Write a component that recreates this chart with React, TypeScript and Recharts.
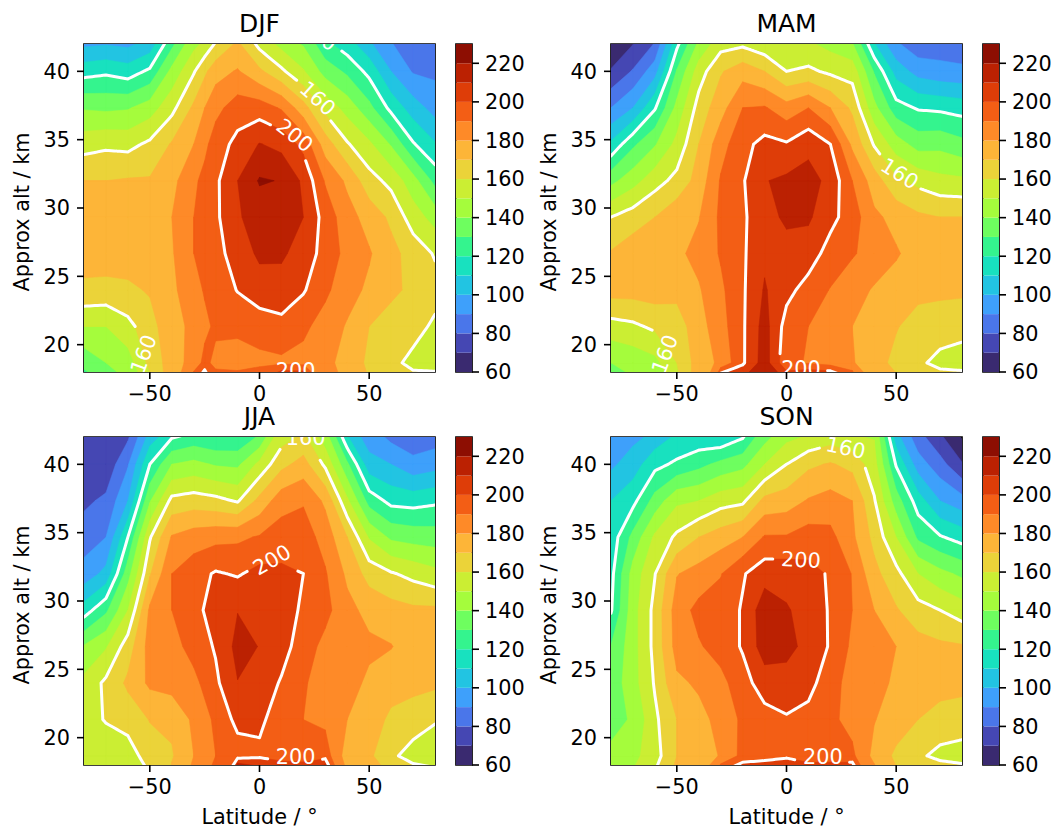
import React from 'react';
import { Bar, BarChart, ReferenceArea, Scatter, ScatterChart, XAxis, YAxis } from 'recharts';

const LATS = [-80, -70, -60, -50, -40, -30, -20, -10, 0, 10, 20, 30, 40, 50, 60, 70, 80];
const DJF_LATS = [-80, -70, -60, -50, -40, -30, -25, -20, -10, 0, 10, 20, 30, 40, 50, 60, 70, 80];
const ALTS = [16, 18.67, 21.33, 24, 26.67, 29.33, 32, 34.67, 37.33, 40, 42.67];

// one row per latitude, one value per altitude
const DJF = [
  [115, 133, 150, 168, 174, 175, 170, 156, 139, 116, 92],
  [125, 140, 150, 167, 175, 176, 170, 158, 138, 118, 93],
  [135, 145, 157, 168, 175, 176, 171, 157, 139, 115, 92],
  [150, 163, 166, 171, 176, 176, 171, 162, 145, 122, 98],
  [178, 175, 177, 178, 179, 180, 177, 171, 157, 143, 122],
  [210, 184, 182, 186, 190, 190, 188, 180, 172, 159, 143],
  [230, 193, 187.5, 191, 194, 194, 193, 187.5, 180, 168, 148],
  [205, 187, 192, 193, 197, 198, 198, 195, 187, 176, 156],
  [205, 186, 192, 200.5, 204, 209, 210, 203, 195, 181, 168],
  [215, 187, 195, 205, 212, 214, 221, 210.5, 195, 172, 152],
  [245, 188, 197, 206, 211.5, 214, 219.5, 207, 189, 162, 142],
  [245, 187, 192, 201, 206, 210, 208, 197, 174, 151, 135],
  [195, 183, 186, 192, 196, 196, 189, 175, 157, 136, 118],
  [180, 176, 179, 184, 187, 184, 178, 161, 146, 128, 110],
  [172, 168, 170, 178, 181, 176, 164, 152, 133, 117, 98],
  [170, 163, 166, 172, 173, 168, 157, 139, 117, 100, 88],
  [172, 157, 164, 168, 166, 155, 144, 121, 105, 89, 77],
  [170, 157, 158, 164, 159, 146, 127, 111, 96, 88, 80],
];
const MAM = [
  [125, 140, 156, 174, 171, 160, 137, 112, 90, 71, 58],
  [135, 143, 158, 174, 176, 165, 146, 128, 100, 81, 66],
  [140, 147, 162, 175, 177, 170, 156, 139, 119, 96, 76],
  [150, 160, 165, 173, 178, 177, 163, 153, 143, 131, 113],
  [180, 175, 176, 179, 183, 179.5, 174, 170, 164, 155, 138],
  [245, 182, 186, 188, 191, 192, 191, 186, 176, 169, 152],
  [225, 198.5, 198.5, 198.5, 198.5, 198.5, 199, 197, 190, 176, 152],
  [225, 215, 214, 211, 208, 206, 209.5, 203, 191, 170, 148],
  [225, 193, 196, 203, 206, 212, 212, 201, 184, 160, 147],
  [250, 189, 190, 196, 205, 211.5, 214, 207, 190, 162, 148],
  [250, 186, 186, 189.5, 196, 203, 207, 200, 180, 158, 143],
  [224, 181, 180, 184, 191, 195, 190, 178, 168, 156, 136],
  [185, 173, 175, 179, 186, 182, 175, 159, 143, 129, 105],
  [175, 168, 170.5, 176, 181, 177, 162, 145, 124, 106, 87],
  [172, 162, 167, 172, 176, 172, 157, 136, 119, 96, 80],
  [175, 157, 165, 172, 173, 170, 153, 137, 118, 93, 83],
  [175, 156, 163, 172, 174, 170, 152, 133, 116, 92, 82],
];
const JJA = [
  [150, 152, 154, 153, 141, 115, 94, 85, 78, 73, 70],
  [150, 151, 161, 162, 149, 128, 103, 90, 82, 73, 70],
  [150, 155, 164, 172, 165, 150, 136, 120, 100, 89, 75],
  [155, 165, 170.5, 182, 184, 182, 169, 159, 139, 120, 100],
  [175, 169, 172, 184, 186, 190, 190, 181, 163, 140, 112],
  [185, 180, 182, 187, 194, 197, 196, 185, 165, 143, 117],
  [200, 190, 192, 198, 201, 204, 201, 187, 163, 139, 115],
  [270, 195, 203, 209.7, 213, 209.7, 199, 188, 159, 138, 116],
  [240, 198, 202, 206, 209.7, 206, 203, 191, 173, 153, 125],
  [250, 192, 195, 199, 204, 206, 202, 195, 186, 167, 152],
  [250, 190, 190, 191, 195, 198, 200, 195, 189, 174, 158],
  [256, 195, 188, 186, 187, 193, 191, 186, 178, 158, 140],
  [185, 175, 180, 184, 186, 183, 178, 170, 152, 132, 105],
  [172, 172, 175, 178, 182, 177, 166, 149, 126, 104, 92],
  [175, 162, 168, 174, 180.5, 174, 161, 138, 117, 100, 83],
  [175, 156, 165, 173, 175, 172, 157, 136, 116, 93, 81],
  [175, 153, 161, 172, 175, 172, 153, 135, 118, 96, 82],
];
const SON = [
  [150, 142, 137, 134, 130.5, 119, 117, 114, 110, 98, 90],
  [155, 147, 141, 146, 146, 146, 144, 133, 117, 105, 95],
  [165, 156, 158, 161, 163, 163, 159.6, 152, 134, 117, 100],
  [175, 170, 170, 178, 184, 185, 179.5, 162, 148, 122, 108],
  [185, 173, 177, 181.5, 189, 193, 184, 170, 150, 127, 109],
  [222, 181, 183, 187, 194, 194, 189.5, 175, 156, 133, 105],
  [233, 193, 192, 196, 201, 201, 199, 180, 158, 137, 113],
  [227, 196, 196, 205, 215, 216, 206, 191, 173, 150, 132],
  [230, 198, 199, 206, 213, 211, 206, 191, 175, 160, 143],
  [233, 193, 196, 204, 207, 206, 203, 195, 181, 168, 146],
  [233, 193, 192, 193, 199, 199, 199, 193, 184, 171, 150],
  [238, 192, 187, 187, 188, 190, 189.5, 182, 180, 167, 147],
  [191, 177, 180.5, 184, 184, 180, 173, 167, 161, 154, 148],
  [175, 168, 175, 178, 180, 171, 163, 150, 135, 119, 100],
  [170, 162, 170, 174, 174, 164, 150, 128, 115, 95, 80],
  [180, 157, 167, 173, 172, 160, 143, 121, 100, 84, 68],
  [175, 156, 165, 173, 171, 155, 138, 116, 94, 71, 55],
];

const LEVELS = [60, 70, 80, 90, 100, 110, 120, 130, 140, 150, 160, 170, 180, 190, 200, 210, 220];
const BAND_COLORS = [
  '#3a2a70', '#4547b3', '#4a76ea', '#3ea0fb', '#22c4e2', '#18e1bf', '#34f48e', '#6efe5f', '#a5fc3c',
  '#cbee33', '#ebd339', '#fdb538', '#fe8a28', '#f35e15', '#de3d08', '#bb2102', '#8d0e02',
];
const LINE_LEVELS = [120, 160, 200];
const LAT_TICKS = [-50, 0, 50];
const ALT_TICKS = [20, 25, 30, 35, 40];
const BAR_TICKS = [60, 80, 100, 120, 140, 160, 180, 200, 220];

const DJF_LABELS = [
  { lat: 26.5, alt: 42.6, text: '120', angle: 30 },
  { lat: 26.5, alt: 38, text: '160', angle: 42 },
  { lat: 16, alt: 35.3, text: '200', angle: 38 },
  { lat: -52.8, alt: 19.3, text: '160', angle: -70 },
  { lat: 16.5, alt: 18.1, text: '200', angle: 0 },
];
const MAM_LABELS = [
  { lat: 51.5, alt: 32.5, text: '160', angle: 32 },
  { lat: -55.4, alt: 19.3, text: '160', angle: -70 },
  { lat: 6.6, alt: 18.2, text: '200', angle: 0 },
];
const JJA_LABELS = [
  { lat: 21, alt: 41.9, text: '160', angle: 0 },
  { lat: 5.7, alt: 33, text: '200', angle: -30 },
  { lat: 16.5, alt: 18.6, text: '200', angle: 0 },
];
const SON_LABELS = [
  { lat: 27, alt: 41.2, text: '160', angle: 12 },
  { lat: 6.6, alt: 33, text: '200', angle: 3 },
  { lat: 16.6, alt: 18.6, text: '200', angle: 0 },
];

const FONT = '"DejaVu Sans", sans-serif';
const TICK = { fontSize: 20.8, fill: '#000', fontFamily: FONT };
const TICK_LINE = { stroke: '#000', strokeWidth: 1.6 };
const minus = (v: number) => String(v).replace('-', '\u2212');

type P = { lat: number; alt: number; v: number };

const cellCorners = (grid: number[][], lats: number[], i: number, j: number): P[] => [
  { lat: lats[i], alt: ALTS[j], v: grid[i][j] },
  { lat: lats[i + 1], alt: ALTS[j], v: grid[i + 1][j] },
  { lat: lats[i + 1], alt: ALTS[j + 1], v: grid[i + 1][j + 1] },
  { lat: lats[i], alt: ALTS[j + 1], v: grid[i][j + 1] },
];

const crossing = (a: P, b: P, level: number): P => {
  const t = (level - a.v) / (b.v - a.v);
  return { lat: a.lat + t * (b.lat - a.lat), alt: a.alt + t * (b.alt - a.alt), v: level };
};

// filled region value >= level, cell by cell, as one list of points plus polygon sizes
function regionAbove(grid: number[][], lats: number[], level: number) {
  const pts: { lat: number; alt: number }[] = [];
  const sizes: number[] = [];
  for (let i = 0; i < lats.length - 1; i++) {
    for (let j = 0; j < ALTS.length - 1; j++) {
      const c = cellCorners(grid, lats, i, j);
      const poly: P[] = [];
      c.forEach((a, k) => {
        const b = c[(k + 1) % 4];
        if (a.v >= level) poly.push(a);
        if (a.v >= level !== b.v >= level) poly.push(crossing(a, b, level));
      });
      if (poly.length > 2) {
        sizes.push(poly.length);
        poly.forEach(p => pts.push({ lat: p.lat, alt: p.alt }));
      }
    }
  }
  return { pts, sizes };
}

type Label = { lat: number; alt: number; text: string; angle: number };

// contour line pieces as pairs of points, with a gap left round each inline label
function linePieces(grid: number[][], lats: number[], level: number, labels: Label[]) {
  const pts: { lat: number; alt: number }[] = [];
  const inGap = (lat: number, alt: number) =>
    labels.some(l => l.text === String(level) && Math.hypot((lat - l.lat) * 2.19, (alt - l.alt) * 13.6) < 27);
  for (let i = 0; i < lats.length - 1; i++) {
    for (let j = 0; j < ALTS.length - 1; j++) {
      const c = cellCorners(grid, lats, i, j);
      const hits: P[] = [];
      c.forEach((a, k) => {
        const b = c[(k + 1) % 4];
        if (a.v >= level !== b.v >= level) hits.push(crossing(a, b, level));
      });
      for (let h = 0; h + 1 < hits.length; h += 2) {
        const [a, b] = [hits[h], hits[h + 1]];
        const steps = 8;
        for (let s = 0; s < steps; s++) {
          const p0 = { lat: a.lat + ((b.lat - a.lat) * s) / steps, alt: a.alt + ((b.alt - a.alt) * s) / steps };
          const p1 = { lat: a.lat + ((b.lat - a.lat) * (s + 1)) / steps, alt: a.alt + ((b.alt - a.alt) * (s + 1)) / steps };
          if (!inGap((p0.lat + p1.lat) / 2, (p0.alt + p1.alt) / 2)) pts.push(p0, p1);
        }
      }
    }
  }
  return pts;
}

const noDot = () => <g />;

const LabelText = (props: any) => (
  <text
    x={props.cx}
    y={props.cy}
    transform={`rotate(${props.angle} ${props.cx} ${props.cy})`}
    textAnchor="middle"
    dominantBaseline="central"
    fontSize={20.8}
    fontFamily={FONT}
    fill="#fff"
  >
    {props.text}
  </text>
);

function Panel({ title, grid, lats, labels, left, top, xLabel }: {
  title: string; grid: number[][]; lats: number[]; labels: Label[]; left: number; top: number; xLabel?: string;
}) {
  return (
    <>
      <div style={{ position: 'absolute', left, top }}>
        <ScatterChart width={440} height={436} margin={{ top: 44, right: 5, bottom: 0, left: 0 }}>
          <XAxis
            type="number"
            dataKey="lat"
            domain={[-80, 80]}
            allowDataOverflow
            ticks={LAT_TICKS}
            tickFormatter={minus}
            tick={TICK}
            tickSize={7}
            tickLine={TICK_LINE}
            axisLine={false}
            height={64}
            tickMargin={7}
          />
          <YAxis
            type="number"
            dataKey="alt"
            domain={[18, 42]}
            allowDataOverflow
            ticks={ALT_TICKS}
            tick={TICK}
            tickSize={7}
            tickLine={TICK_LINE}
            axisLine={false}
            width={84}
            tickMargin={7}
          />
          {LEVELS.map((level, n) => {
            const { pts, sizes } = regionAbove(grid, lats, level);
            const color = BAND_COLORS[n];
            const draw = ({ points }: any) => {
              let at = 0;
              let d = '';
              sizes.forEach(size => {
                d += 'M' + points.slice(at, at + size).map((p: any) => `${p.x},${p.y}`).join('L') + 'Z';
                at += size;
              });
              return <path d={d} fill={color} stroke={color} strokeWidth={0.5} />;
            };
            return <Scatter key={level} data={pts} line={draw} shape={noDot} isAnimationActive={false} />;
          })}
          {LINE_LEVELS.map(level => {
            const pts = linePieces(grid, lats, level, labels);
            const draw = ({ points }: any) => {
              let d = '';
              for (let k = 0; k + 1 < points.length; k += 2) {
                d += `M${points[k].x},${points[k].y}L${points[k + 1].x},${points[k + 1].y}`;
              }
              return <path d={d} fill="none" stroke="#fff" strokeWidth={3} strokeLinecap="round" />;
            };
            return <Scatter key={level} data={pts} line={draw} shape={noDot} isAnimationActive={false} />;
          })}
          <Scatter data={labels} shape={LabelText} isAnimationActive={false} />
          <ReferenceArea x1={-80} x2={80} y1={18} y2={42} fill="none" stroke="#000" strokeWidth={1.7} />
          <text x={259.5} y={32} textAnchor="middle" fontSize={25} fontFamily={FONT} fill="#000">{title}</text>
          <text
            x={22}
            y={212}
            transform="rotate(-90 22 212)"
            textAnchor="middle"
            dominantBaseline="central"
            fontSize={20.8}
            fontFamily={FONT}
            fill="#000"
          >
            Approx alt / km
          </text>
          {xLabel && (
            <text x={259.5} y={431} textAnchor="middle" fontSize={20.8} fontFamily={FONT} fill="#000">{xLabel}</text>
          )}
        </ScatterChart>
      </div>
      <div style={{ position: 'absolute', left: left + 440, top }}>
        <ColorBar />
      </div>
    </>
  );
}

const BAR_DATA = [{ base: 60, ...Object.fromEntries(LEVELS.map(level => [`b${level}`, 10])) }];

function ColorBar() {
  return (
    <BarChart
      width={95}
      height={436}
      data={BAR_DATA}
      margin={{ top: 44, right: 0, bottom: 64, left: 16 }}
      barCategoryGap={0}
    >
      <XAxis hide />
      <YAxis
        orientation="right"
        type="number"
        domain={[60, 230]}
        allowDataOverflow
        ticks={BAR_TICKS}
        tick={TICK}
        tickSize={7}
        tickLine={TICK_LINE}
        axisLine={false}
        width={63}
        tickMargin={6}
        interval={0}
      />
      <Bar dataKey="base" stackId="bar" fill="none" isAnimationActive={false} />
      {LEVELS.map((level, n) => (
        <Bar key={level} dataKey={`b${level}`} stackId="bar" fill={BAND_COLORS[n]} isAnimationActive={false} />
      ))}
      <ReferenceArea y1={60} y2={230} fill="none" stroke="#000" strokeWidth={1.7} />
    </BarChart>
  );
}

export default function App() {
  return (
    <div style={{ position: 'absolute', left: 0, top: 0, width: 1060, height: 829 }}>
      <Panel title="DJF" grid={DJF} lats={DJF_LATS} labels={DJF_LABELS} left={0} top={0} />
      <Panel title="MAM" grid={MAM} lats={LATS} labels={MAM_LABELS} left={527} top={0} />
      <Panel title="JJA" grid={JJA} lats={LATS} labels={JJA_LABELS} left={0} top={393} xLabel="Latitude / °" />
      <Panel title="SON" grid={SON} lats={LATS} labels={SON_LABELS} left={527} top={393} xLabel="Latitude / °" />
    </div>
  );
}
